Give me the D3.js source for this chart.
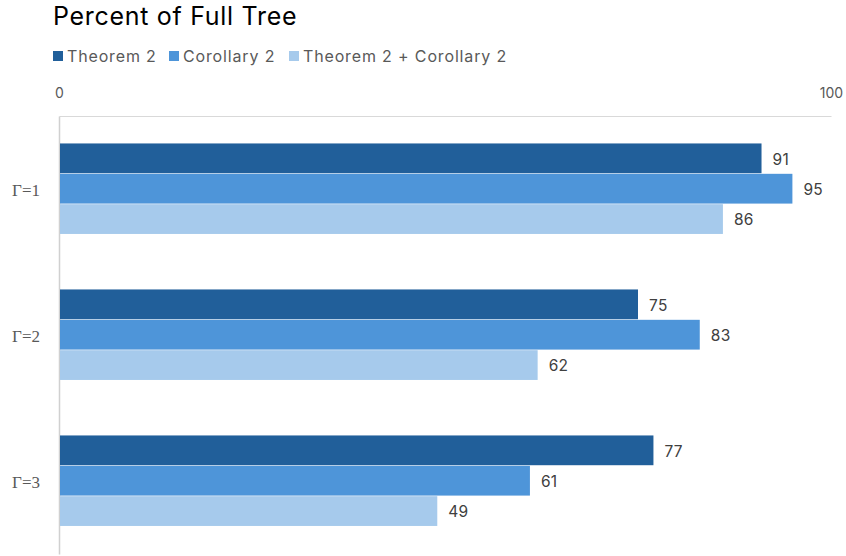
<!DOCTYPE html>
<html><head><meta charset="utf-8">
<script src="https://cdn.jsdelivr.net/npm/d3@7"></script>
<style>body{margin:0;background:#fff}svg{display:block}</style>
</head><body>
<svg id="chart" width="846" height="556"></svg>
<script>
const categories = ["Γ=1", "Γ=2", "Γ=3"];
const seriesNames = ["Theorem 2", "Corollary 2", "Theorem 2 + Corollary 2"];
const theorem2 = [91, 75, 77];
const corollary2 = [95, 83, 61];
const combined = [86, 62, 49];
const tickValues = [0, 100];
const colors = ["#215F9A", "#4E95D9", "#A6CAEC"];

const seriesValues = [theorem2, corollary2, combined];
const svg = d3.select("#chart");
const W = 846, H = 556;
const m = {left: 59, right: 15, top: 116, bottom: 2};
const x = d3.scaleLinear().domain([0, 100]).range([m.left, W - m.right]);
const y0 = d3.scaleBand().domain(categories).range([m.top, H - m.bottom]).paddingInner(0.376).paddingOuter(0.188);
const y1 = d3.scaleBand().domain(seriesNames).range([0, y0.bandwidth()]);

const font = "Inter, 'Open Sans', sans-serif";

svg.append("text").attr("x", 53).attr("y", 25).attr("font-family", font)
  .attr("font-size", 25).attr("letter-spacing", 0.7).attr("fill", "#000").text("Percent of Full Tree");

// legend
const legX = [53, 169, 289];
seriesNames.forEach((s, i) => {
  const g = svg.append("g").attr("transform", `translate(${legX[i]},51)`);
  g.append("rect").attr("width", 10).attr("height", 10).attr("fill", colors[i]);
  g.append("text").attr("x", 14).attr("y", 10.5).attr("font-family", font)
    .attr("font-size", 16).attr("letter-spacing", 0.85).attr("fill", "#595959").text(s);
});

// top axis
const axis = svg.append("g").attr("transform", `translate(0,${m.top})`)
  .call(d3.axisTop(x).tickValues(tickValues).tickSize(0).tickPadding(18));
axis.select(".domain").attr("stroke", "#d9d9d9");
axis.selectAll("text").attr("font-family", font).attr("font-size", 14).attr("fill", "#595959");

// left axis
const yAxis = svg.append("g").attr("transform", `translate(${m.left},0)`)
  .call(d3.axisLeft(y0).tickSize(0).tickPadding(19));
yAxis.select(".domain").attr("stroke", "#d0d0d0").attr("stroke-width", 1.5);
yAxis.selectAll("text").attr("font-family", "'Liberation Serif', 'Times New Roman', serif")
  .attr("font-size", 17).attr("fill", "#595959").attr("dy", "0.4em");

const data = [];
categories.forEach((c, ci) => seriesNames.forEach((s, si) => data.push({c, s, si, v: seriesValues[si][ci]})));

const bars = svg.append("g");
bars.selectAll("rect").data(data).join("rect")
  .attr("x", x(0) + 1)
  .attr("y", d => y0(d.c) + y1(d.s))
  .attr("width", d => x(d.v) - x(0) - 1)
  .attr("height", y1.bandwidth() - 0.6)
  .attr("fill", d => colors[d.si]);

svg.append("g").selectAll("text").data(data).join("text")
  .attr("x", d => x(d.v) + 11)
  .attr("y", d => y0(d.c) + y1(d.s) + y1.bandwidth() / 2)
  .attr("dy", "0.38em")
  .attr("font-family", font).attr("font-size", 15.5).attr("letter-spacing", 0.3).attr("fill", "#404040")
  .text(d => d.v);
</script>
</body></html>
